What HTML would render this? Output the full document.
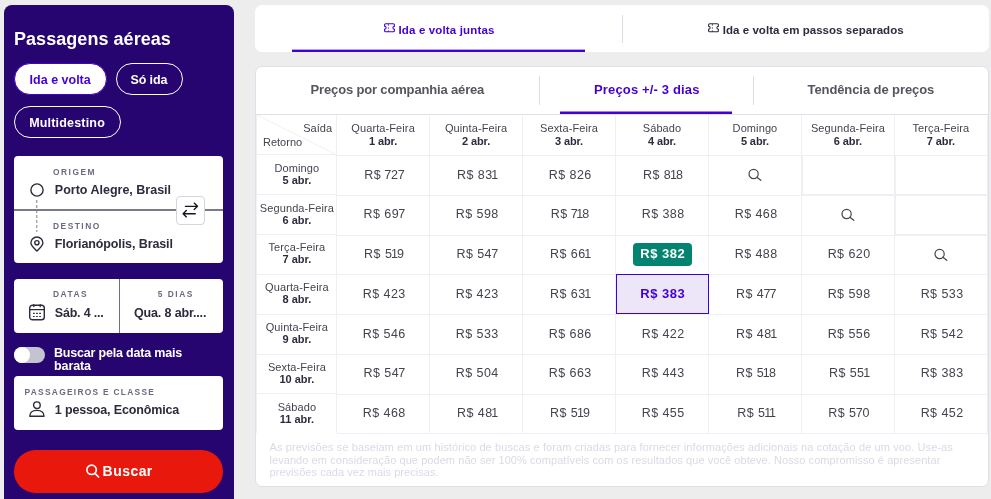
<!DOCTYPE html>
<html lang="pt-BR">
<head>
<meta charset="utf-8">
<title>Passagens aéreas</title>
<style>
*{box-sizing:border-box;margin:0;padding:0}
html,body{width:991px;height:499px;overflow:hidden;background:#ededed;font-family:"Liberation Sans",sans-serif;}
body{position:relative}
.abs{position:absolute}
.t{position:absolute;white-space:nowrap;line-height:1}
#panel{position:absolute;left:4px;top:5px;width:230px;height:510px;background:#270570;border-radius:8px 8px 0 0}
.pill{position:absolute;border-radius:16px;border:1px solid #fff}
.card{position:absolute;left:14px;width:209px;background:#fff;border-radius:4px}
#tabs1{position:absolute;left:255px;top:5px;width:734px;height:47px;background:#fff;border-radius:7px}
#card2{position:absolute;left:255px;top:66px;width:734px;height:421px;background:#fff;border-radius:7px;border:1px solid #dde1eb}
.hl{position:absolute;height:1px;background:#f0f0f4}
.vl{position:absolute;width:1px;background:#f0f0f4}
</style>
</head>
<body>
<div id="panel"></div>
<div class="t" style="top:30.00px;font-size:18px;font-weight:700;color:#fff;letter-spacing:0.05px;left:14.00px;">Passagens aéreas</div>
<div class="pill" style="left:14px;top:63px;width:93px;height:32px;background:#fff;border-color:#4300d2"></div>
<div class="pill" style="left:116px;top:63px;width:67px;height:32px"></div>
<div class="pill" style="left:14px;top:106px;width:107px;height:32px"></div>
<div class="t" style="top:74.00px;font-size:12.5px;font-weight:700;color:#4300d2;left:29.60px;">Ida e volta</div>
<div class="t" style="top:74.00px;font-size:12.5px;font-weight:700;color:#fff;letter-spacing:-0.15px;left:130.60px;">Só ida</div>
<div class="t" style="top:117.00px;font-size:12.5px;font-weight:700;color:#fff;letter-spacing:0.18px;left:29.20px;">Multidestino</div>
<div class="card" style="top:156px;height:107px"></div>
<div class="abs" style="left:14px;top:209px;width:209px;height:2px;background:#787c8a"></div>
<div class="t" style="top:168.00px;font-size:8.4px;font-weight:700;color:#6a6a82;letter-spacing:1.5px;left:53.00px;">ORIGEM</div>
<div class="t" style="top:184.00px;font-size:12.5px;font-weight:700;color:#2c2c3d;left:54.80px;">Porto Alegre, Brasil</div>
<div class="t" style="top:222.00px;font-size:8.4px;font-weight:700;color:#6a6a82;letter-spacing:1.5px;left:53.00px;">DESTINO</div>
<div class="t" style="top:238.00px;font-size:12.5px;font-weight:700;color:#2c2c3d;letter-spacing:-0.1px;left:54.80px;">Florianópolis, Brasil</div>
<svg class="abs" style="left:28px;top:181px" width="18" height="74" viewBox="0 0 18 74">
  <circle cx="9" cy="9" r="6.1" fill="none" stroke="#2c2c3d" stroke-width="1.400"/>
  <line x1="8.800" y1="19" x2="8.800" y2="51" stroke="#7d7d8c" stroke-width="1" stroke-dasharray="3 2"/>
  <path d="M8.900 70.100 C5.500 66.500 2.900 64.600 2.900 62 a6 6 0 0 1 12 0 c0 2.600 -2.600 4.500 -6 8.100z" fill="none" stroke="#2c2c3d" stroke-width="1.400" stroke-linejoin="round"/>
  <circle cx="8.900" cy="61.700" r="2.100" fill="none" stroke="#2c2c3d" stroke-width="1.400"/>
</svg>
<div class="abs" style="left:176px;top:196px;width:29px;height:29px;background:#fff;border:1px solid #d5d5de;border-radius:4px"></div>
<svg class="abs" style="left:182px;top:202px" width="17" height="17" viewBox="0 0 17 17" fill="none" stroke="#15151f" stroke-width="1.350" stroke-linecap="round" stroke-linejoin="round">
  <path d="M3.400 4.300 H15.400 M12.200 1.100 L15.500 4.300 L12.200 7.500"/>
  <path d="M13.300 11.700 H1.200 M4.400 8.500 L1.100 11.700 L4.400 14.900"/>
</svg>
<div class="card" style="top:279px;height:54px"></div>
<div class="abs" style="left:119px;top:279px;width:1px;height:54px;background:#6c7280"></div>
<div class="t" style="top:290.00px;font-size:8.4px;font-weight:700;color:#6a6a82;letter-spacing:1.5px;left:53.00px;">DATAS</div>
<div class="t" style="top:307.00px;font-size:12.5px;font-weight:700;color:#2c2c3d;letter-spacing:-0.2px;left:54.80px;">Sáb. 4 ...</div>
<div class="t" style="top:290.00px;font-size:8.4px;font-weight:700;color:#6a6a82;letter-spacing:1.5px;left:157.80px;">5 DIAS</div>
<div class="t" style="top:307.00px;font-size:12.5px;font-weight:700;color:#2c2c3d;letter-spacing:-0.15px;left:134.00px;">Qua. 8 abr....</div>
<svg class="abs" style="left:28px;top:302px" width="18" height="20" viewBox="0 0 18 20" fill="none" stroke="#2c2c3d" stroke-width="1.400" stroke-linecap="round">
  <rect x="1.700" y="3.200" width="14.600" height="14.600" rx="2.800"/>
  <line x1="1.700" y1="7.600" x2="16.300" y2="7.600"/>
  <line x1="5.800" y1="2.700" x2="5.800" y2="4.500"/>
  <line x1="12.200" y1="2.700" x2="12.200" y2="4.500"/>
  <g stroke-width="1.100" stroke-dasharray="1.700 1.400" stroke-linecap="butt"><line x1="5" y1="11.400" x2="13.500" y2="11.400"/><line x1="5" y1="14.500" x2="13.500" y2="14.500"/></g>
</svg>
<div class="abs" style="left:14px;top:347px;width:31px;height:16px;border-radius:8px;background:#c4c4d0"></div>
<div class="abs" style="left:14px;top:347px;width:16px;height:16px;border-radius:8px;background:#fff"></div>
<div class="t" style="top:347.00px;font-size:12.5px;font-weight:700;color:#fff;letter-spacing:-0.19px;left:54.00px;">Buscar pela data mais</div>
<div class="t" style="top:360.00px;font-size:12.5px;font-weight:700;color:#fff;letter-spacing:-0.1px;left:54.00px;">barata</div>
<div class="card" style="top:376px;height:54px"></div>
<div class="t" style="top:388.00px;font-size:8.4px;font-weight:700;color:#6a6a82;letter-spacing:1.28px;left:24.50px;">PASSAGEIROS E CLASSE</div>
<div class="t" style="top:404.00px;font-size:12.5px;font-weight:700;color:#2c2c3d;letter-spacing:-0.15px;left:54.80px;">1 pessoa, Econômica</div>
<svg class="abs" style="left:28px;top:400px" width="18" height="18" viewBox="0 0 18 18" fill="none" stroke="#2c2c3d" stroke-width="1.400" stroke-linecap="round" stroke-linejoin="round">
  <circle cx="8.900" cy="5.200" r="3.300"/>
  <path d="M1.800 16.200 c0 -4 3 -5.800 7.100 -5.800 s7.100 1.800 7.100 5.800z"/>
</svg>
<div class="abs" style="left:14px;top:450px;width:209px;height:43px;border-radius:22px;background:#e8190c"></div>
<svg class="abs" style="left:85px;top:463px" width="16" height="16" viewBox="0 0 16 16" fill="none" stroke="#fff" stroke-width="1.700" stroke-linecap="round">
  <circle cx="6.600" cy="6.800" r="4.700"/><line x1="10" y1="10.400" x2="13.600" y2="14"/>
</svg>
<div class="t" style="top:464.00px;font-size:14px;font-weight:700;color:#fff;letter-spacing:0.45px;left:102.60px;">Buscar</div>
<div id="tabs1"></div>
<div class="abs" style="left:292px;top:49px;width:293px;height:1px;background:#b9a0ee"></div>
<div class="abs" style="left:292px;top:50px;width:293px;height:2px;background:#4300d2"></div>
<div class="abs" style="left:622px;top:15px;width:1px;height:28px;background:#dcdce6"></div>
<svg class="abs" style="left:384px;top:23px" width="11" height="10" viewBox="0 0 11 10" fill="none" stroke="#4300d2" stroke-width="1.100">
  <path d="M1.600 .8 h7.800 a1 1 0 0 1 1 1 v1.500 a1.500 1.500 0 0 0 0 3 v1.500 a1 1 0 0 1 -1 1 h-7.800 a1 1 0 0 1 -1 -1 v-1.500 a1.500 1.500 0 0 0 0 -3 v-1.500 a1 1 0 0 1 1 -1z"/>
  <line x1="4.400" y1="1.300" x2="4.400" y2="8.700" stroke-dasharray="1.200 1.900"/>
</svg>
<div class="t" style="top:25.00px;font-size:11.5px;font-weight:700;color:#4300d2;letter-spacing:0.15px;left:398.50px;">Ida e volta juntas</div>
<svg class="abs" style="left:708px;top:23px" width="11" height="10" viewBox="0 0 11 10" fill="none" stroke="#2c2c3d" stroke-width="1.100">
  <path d="M1.600 .8 h7.800 a1 1 0 0 1 1 1 v1.500 a1.500 1.500 0 0 0 0 3 v1.500 a1 1 0 0 1 -1 1 h-7.800 a1 1 0 0 1 -1 -1 v-1.500 a1.500 1.500 0 0 0 0 -3 v-1.500 a1 1 0 0 1 1 -1z"/>
  <line x1="4.400" y1="1.300" x2="4.400" y2="8.700" stroke-dasharray="1.200 1.900"/>
</svg>
<div class="t" style="top:25.00px;font-size:11.5px;font-weight:700;color:#2c2c3d;letter-spacing:0.04px;left:722.80px;">Ida e volta em passos separados</div>
<div id="card2"></div>
<div class="t" style="top:83.00px;font-size:13px;font-weight:700;color:#55555f;letter-spacing:-0.16px;left:310.60px;">Preços por companhia aérea</div>
<div class="t" style="top:83.00px;font-size:13px;font-weight:700;color:#4300d2;letter-spacing:0.15px;left:594.00px;">Preços +/- 3 dias</div>
<div class="t" style="top:83.00px;font-size:13px;font-weight:700;color:#55555f;letter-spacing:-0.09px;left:807.50px;">Tendência de preços</div>
<div class="abs" style="left:539px;top:76px;width:1px;height:29px;background:#dcdce6"></div>
<div class="abs" style="left:753px;top:76px;width:1px;height:29px;background:#dcdce6"></div>
<div class="abs" style="left:560px;top:111px;width:172px;height:1px;background:#a180e8"></div>
<div class="abs" style="left:560px;top:112px;width:172px;height:2px;background:#4300d2"></div>
<div class="hl" style="left:256px;top:114px;width:732px;background:#dfe0ea"></div>
<div class="hl" style="left:256px;top:154px;width:81px"></div>
<div class="hl" style="left:337px;top:155px;width:651px"></div>
<div class="hl" style="left:256px;top:194px;width:81px"></div>
<div class="hl" style="left:337px;top:195px;width:651px"></div>
<div class="hl" style="left:256px;top:234px;width:81px"></div>
<div class="hl" style="left:337px;top:235px;width:651px"></div>
<div class="hl" style="left:256px;top:274px;width:81px"></div>
<div class="hl" style="left:337px;top:274px;width:651px"></div>
<div class="hl" style="left:256px;top:314px;width:81px"></div>
<div class="hl" style="left:337px;top:314px;width:651px"></div>
<div class="hl" style="left:256px;top:354px;width:81px"></div>
<div class="hl" style="left:337px;top:354px;width:651px"></div>
<div class="hl" style="left:256px;top:393px;width:81px"></div>
<div class="hl" style="left:337px;top:394px;width:651px"></div>
<div class="hl" style="left:337px;top:433px;width:651px"></div>
<div class="vl" style="left:256px;top:115px;height:318px"></div>
<div class="vl" style="left:336px;top:115px;height:318px"></div>
<div class="vl" style="left:429px;top:115px;height:318px"></div>
<div class="vl" style="left:522px;top:115px;height:318px"></div>
<div class="vl" style="left:615px;top:115px;height:318px"></div>
<div class="vl" style="left:708px;top:115px;height:318px"></div>
<div class="vl" style="left:801px;top:115px;height:318px"></div>
<div class="vl" style="left:894px;top:115px;height:318px"></div>
<div class="vl" style="left:987px;top:115px;height:318px"></div>
<svg class="abs" style="left:257px;top:115px" width="80" height="40"><line x1="0" y1="0" x2="80" y2="40" stroke="#f1f1f5" stroke-width="1"/></svg>
<div class="t" style="top:123.00px;font-size:11px;font-weight:400;color:#44444f;left:32.00px;width:300px;text-align:right;">Saída</div>
<div class="t" style="top:137.00px;font-size:11px;font-weight:400;color:#44444f;left:263.00px;">Retorno</div>
<div class="t" style="top:123.00px;font-size:11px;font-weight:400;color:#44444f;letter-spacing:0.1px;left:233.09px;width:300px;text-align:center;">Quarta-Feira</div>
<div class="t" style="top:136.00px;font-size:11px;font-weight:700;color:#2c2c3d;letter-spacing:-0.1px;left:233.09px;width:300px;text-align:center;">1 abr.</div>
<div class="t" style="top:123.00px;font-size:11px;font-weight:400;color:#44444f;letter-spacing:0.1px;left:326.06px;width:300px;text-align:center;">Quinta-Feira</div>
<div class="t" style="top:136.00px;font-size:11px;font-weight:700;color:#2c2c3d;letter-spacing:-0.1px;left:326.06px;width:300px;text-align:center;">2 abr.</div>
<div class="t" style="top:123.00px;font-size:11px;font-weight:400;color:#44444f;letter-spacing:0.1px;left:419.02px;width:300px;text-align:center;">Sexta-Feira</div>
<div class="t" style="top:136.00px;font-size:11px;font-weight:700;color:#2c2c3d;letter-spacing:-0.1px;left:419.02px;width:300px;text-align:center;">3 abr.</div>
<div class="t" style="top:123.00px;font-size:11px;font-weight:400;color:#44444f;letter-spacing:0.1px;left:512.00px;width:300px;text-align:center;">Sábado</div>
<div class="t" style="top:136.00px;font-size:11px;font-weight:700;color:#2c2c3d;letter-spacing:-0.1px;left:512.00px;width:300px;text-align:center;">4 abr.</div>
<div class="t" style="top:123.00px;font-size:11px;font-weight:400;color:#44444f;letter-spacing:0.1px;left:604.97px;width:300px;text-align:center;">Domingo</div>
<div class="t" style="top:136.00px;font-size:11px;font-weight:700;color:#2c2c3d;letter-spacing:-0.1px;left:604.97px;width:300px;text-align:center;">5 abr.</div>
<div class="t" style="top:123.00px;font-size:11px;font-weight:400;color:#44444f;letter-spacing:0.1px;left:697.93px;width:300px;text-align:center;">Segunda-Feira</div>
<div class="t" style="top:136.00px;font-size:11px;font-weight:700;color:#2c2c3d;letter-spacing:-0.1px;left:697.93px;width:300px;text-align:center;">6 abr.</div>
<div class="t" style="top:123.00px;font-size:11px;font-weight:400;color:#44444f;letter-spacing:0.1px;left:790.90px;width:300px;text-align:center;">Terça-Feira</div>
<div class="t" style="top:136.00px;font-size:11px;font-weight:700;color:#2c2c3d;letter-spacing:-0.1px;left:790.90px;width:300px;text-align:center;">7 abr.</div>
<div class="t" style="top:163.00px;font-size:11px;font-weight:400;color:#44444f;letter-spacing:0.1px;left:146.90px;width:300px;text-align:center;">Domingo</div>
<div class="t" style="top:175.00px;font-size:11px;font-weight:700;color:#2c2c3d;left:146.90px;width:300px;text-align:center;">5 abr.</div>
<div class="t" style="top:169.00px;font-size:12.5px;font-weight:400;color:#44444f;letter-spacing:0.44px;left:234.29px;width:300px;text-align:center;">R$ <span style="letter-spacing:-0.26px;margin-left:-0.7px">7</span>2<span style="letter-spacing:-0.26px;margin-left:-0.7px">7</span></div>
<div class="t" style="top:169.00px;font-size:12.5px;font-weight:400;color:#44444f;letter-spacing:0.44px;left:327.25px;width:300px;text-align:center;">R$ 83<span style="letter-spacing:-0.9px;margin-left:-1.3px">1</span></div>
<div class="t" style="top:169.00px;font-size:12.5px;font-weight:400;color:#44444f;letter-spacing:0.44px;left:420.23px;width:300px;text-align:center;">R$ 826</div>
<div class="t" style="top:169.00px;font-size:12.5px;font-weight:400;color:#44444f;letter-spacing:0.44px;left:513.20px;width:300px;text-align:center;">R$ 8<span style="letter-spacing:-0.9px;margin-left:-1.3px">1</span>8</div>
<svg class="abs" style="left:747.2px;top:167.0px" width="16" height="16" viewBox="0 0 16 16" fill="none" stroke="#44444f" stroke-width="1.200" stroke-linecap="round"><circle cx="6.600" cy="6.950" r="4.600"/><line x1="9.900" y1="10.200" x2="13.800" y2="13.300"/></svg>
<div class="abs" style="left:801px;top:155px;width:2px;height:41px;background:#efeff3"></div>
<div class="abs" style="left:801px;top:194px;width:94px;height:2px;background:#efeff3"></div>
<div class="abs" style="left:894px;top:155px;width:2px;height:41px;background:#efeff3"></div>
<div class="abs" style="left:894px;top:194px;width:94px;height:2px;background:#efeff3"></div>
<div class="t" style="top:203.00px;font-size:11px;font-weight:400;color:#44444f;letter-spacing:0.1px;left:146.90px;width:300px;text-align:center;">Segunda-Feira</div>
<div class="t" style="top:215.00px;font-size:11px;font-weight:700;color:#2c2c3d;left:146.90px;width:300px;text-align:center;">6 abr.</div>
<div class="t" style="top:208.00px;font-size:12.5px;font-weight:400;color:#44444f;letter-spacing:0.44px;left:234.29px;width:300px;text-align:center;">R$ 69<span style="letter-spacing:-0.26px;margin-left:-0.7px">7</span></div>
<div class="t" style="top:208.00px;font-size:12.5px;font-weight:400;color:#44444f;letter-spacing:0.44px;left:327.25px;width:300px;text-align:center;">R$ 598</div>
<div class="t" style="top:208.00px;font-size:12.5px;font-weight:400;color:#44444f;letter-spacing:0.44px;left:420.23px;width:300px;text-align:center;">R$ <span style="letter-spacing:-0.26px;margin-left:-0.7px">7</span><span style="letter-spacing:-0.9px;margin-left:-1.3px">1</span>8</div>
<div class="t" style="top:208.00px;font-size:12.5px;font-weight:400;color:#44444f;letter-spacing:0.44px;left:513.20px;width:300px;text-align:center;">R$ 388</div>
<div class="t" style="top:208.00px;font-size:12.5px;font-weight:400;color:#44444f;letter-spacing:0.44px;left:606.17px;width:300px;text-align:center;">R$ 468</div>
<svg class="abs" style="left:840.1px;top:207.0px" width="16" height="16" viewBox="0 0 16 16" fill="none" stroke="#44444f" stroke-width="1.200" stroke-linecap="round"><circle cx="6.600" cy="6.950" r="4.600"/><line x1="9.900" y1="10.200" x2="13.800" y2="13.300"/></svg>
<div class="abs" style="left:894px;top:195px;width:2px;height:41px;background:#efeff3"></div>
<div class="abs" style="left:894px;top:234px;width:94px;height:2px;background:#efeff3"></div>
<div class="t" style="top:242.00px;font-size:11px;font-weight:400;color:#44444f;letter-spacing:0.1px;left:146.90px;width:300px;text-align:center;">Terça-Feira</div>
<div class="t" style="top:254.00px;font-size:11px;font-weight:700;color:#2c2c3d;left:146.90px;width:300px;text-align:center;">7 abr.</div>
<div class="t" style="top:248.00px;font-size:12.5px;font-weight:400;color:#44444f;letter-spacing:0.44px;left:234.29px;width:300px;text-align:center;">R$ 5<span style="letter-spacing:-0.9px;margin-left:-1.3px">1</span>9</div>
<div class="t" style="top:248.00px;font-size:12.5px;font-weight:400;color:#44444f;letter-spacing:0.44px;left:327.25px;width:300px;text-align:center;">R$ 54<span style="letter-spacing:-0.26px;margin-left:-0.7px">7</span></div>
<div class="t" style="top:248.00px;font-size:12.5px;font-weight:400;color:#44444f;letter-spacing:0.44px;left:420.23px;width:300px;text-align:center;">R$ 66<span style="letter-spacing:-0.9px;margin-left:-1.3px">1</span></div>
<div class="abs" style="left:633px;top:243px;width:59px;height:23px;border-radius:4px;background:#058371"></div>
<div class="t" style="top:247.00px;font-size:13px;font-weight:700;color:#fff;letter-spacing:0.5px;left:512.79px;width:300px;text-align:center;">R$ 382</div>
<div class="t" style="top:248.00px;font-size:12.5px;font-weight:400;color:#44444f;letter-spacing:0.44px;left:606.17px;width:300px;text-align:center;">R$ 488</div>
<div class="t" style="top:248.00px;font-size:12.5px;font-weight:400;color:#44444f;letter-spacing:0.44px;left:699.13px;width:300px;text-align:center;">R$ 620</div>
<svg class="abs" style="left:933.1px;top:246.5px" width="16" height="16" viewBox="0 0 16 16" fill="none" stroke="#44444f" stroke-width="1.200" stroke-linecap="round"><circle cx="6.600" cy="6.950" r="4.600"/><line x1="9.900" y1="10.200" x2="13.800" y2="13.300"/></svg>
<div class="t" style="top:282.00px;font-size:11px;font-weight:400;color:#44444f;letter-spacing:0.1px;left:146.90px;width:300px;text-align:center;">Quarta-Feira</div>
<div class="t" style="top:294.00px;font-size:11px;font-weight:700;color:#2c2c3d;left:146.90px;width:300px;text-align:center;">8 abr.</div>
<div class="t" style="top:288.00px;font-size:12.5px;font-weight:400;color:#44444f;letter-spacing:0.44px;left:234.29px;width:300px;text-align:center;">R$ 423</div>
<div class="t" style="top:288.00px;font-size:12.5px;font-weight:400;color:#44444f;letter-spacing:0.44px;left:327.25px;width:300px;text-align:center;">R$ 423</div>
<div class="t" style="top:288.00px;font-size:12.5px;font-weight:400;color:#44444f;letter-spacing:0.44px;left:420.23px;width:300px;text-align:center;">R$ 63<span style="letter-spacing:-0.9px;margin-left:-1.3px">1</span></div>
<div class="abs" style="left:616px;top:274px;width:93px;height:40px;background:#ede6f8;border:1px solid #4300d2"></div>
<div class="t" style="top:287.00px;font-size:13px;font-weight:700;color:#4300d2;letter-spacing:0.5px;left:512.79px;width:300px;text-align:center;">R$ 383</div>
<div class="t" style="top:288.00px;font-size:12.5px;font-weight:400;color:#44444f;letter-spacing:0.44px;left:606.17px;width:300px;text-align:center;">R$ 4<span style="letter-spacing:-0.26px;margin-left:-0.7px">7</span><span style="letter-spacing:-0.26px;margin-left:-0.7px">7</span></div>
<div class="t" style="top:288.00px;font-size:12.5px;font-weight:400;color:#44444f;letter-spacing:0.44px;left:699.13px;width:300px;text-align:center;">R$ 598</div>
<div class="t" style="top:288.00px;font-size:12.5px;font-weight:400;color:#44444f;letter-spacing:0.44px;left:792.11px;width:300px;text-align:center;">R$ 533</div>
<div class="t" style="top:322.00px;font-size:11px;font-weight:400;color:#44444f;letter-spacing:0.1px;left:146.90px;width:300px;text-align:center;">Quinta-Feira</div>
<div class="t" style="top:334.00px;font-size:11px;font-weight:700;color:#2c2c3d;left:146.90px;width:300px;text-align:center;">9 abr.</div>
<div class="t" style="top:328.00px;font-size:12.5px;font-weight:400;color:#44444f;letter-spacing:0.44px;left:234.29px;width:300px;text-align:center;">R$ 546</div>
<div class="t" style="top:328.00px;font-size:12.5px;font-weight:400;color:#44444f;letter-spacing:0.44px;left:327.25px;width:300px;text-align:center;">R$ 533</div>
<div class="t" style="top:328.00px;font-size:12.5px;font-weight:400;color:#44444f;letter-spacing:0.44px;left:420.23px;width:300px;text-align:center;">R$ 686</div>
<div class="t" style="top:328.00px;font-size:12.5px;font-weight:400;color:#44444f;letter-spacing:0.44px;left:513.20px;width:300px;text-align:center;">R$ 422</div>
<div class="t" style="top:328.00px;font-size:12.5px;font-weight:400;color:#44444f;letter-spacing:0.44px;left:606.17px;width:300px;text-align:center;">R$ 48<span style="letter-spacing:-0.9px;margin-left:-1.3px">1</span></div>
<div class="t" style="top:328.00px;font-size:12.5px;font-weight:400;color:#44444f;letter-spacing:0.44px;left:699.13px;width:300px;text-align:center;">R$ 556</div>
<div class="t" style="top:328.00px;font-size:12.5px;font-weight:400;color:#44444f;letter-spacing:0.44px;left:792.11px;width:300px;text-align:center;">R$ 542</div>
<div class="t" style="top:362.00px;font-size:11px;font-weight:400;color:#44444f;letter-spacing:0.1px;left:146.90px;width:300px;text-align:center;">Sexta-Feira</div>
<div class="t" style="top:374.00px;font-size:11px;font-weight:700;color:#2c2c3d;left:146.90px;width:300px;text-align:center;">10 abr.</div>
<div class="t" style="top:367.00px;font-size:12.5px;font-weight:400;color:#44444f;letter-spacing:0.44px;left:234.29px;width:300px;text-align:center;">R$ 54<span style="letter-spacing:-0.26px;margin-left:-0.7px">7</span></div>
<div class="t" style="top:367.00px;font-size:12.5px;font-weight:400;color:#44444f;letter-spacing:0.44px;left:327.25px;width:300px;text-align:center;">R$ 504</div>
<div class="t" style="top:367.00px;font-size:12.5px;font-weight:400;color:#44444f;letter-spacing:0.44px;left:420.23px;width:300px;text-align:center;">R$ 663</div>
<div class="t" style="top:367.00px;font-size:12.5px;font-weight:400;color:#44444f;letter-spacing:0.44px;left:513.20px;width:300px;text-align:center;">R$ 443</div>
<div class="t" style="top:367.00px;font-size:12.5px;font-weight:400;color:#44444f;letter-spacing:0.44px;left:606.17px;width:300px;text-align:center;">R$ 5<span style="letter-spacing:-0.9px;margin-left:-1.3px">1</span>8</div>
<div class="t" style="top:367.00px;font-size:12.5px;font-weight:400;color:#44444f;letter-spacing:0.44px;left:699.13px;width:300px;text-align:center;">R$ 55<span style="letter-spacing:-0.9px;margin-left:-1.3px">1</span></div>
<div class="t" style="top:367.00px;font-size:12.5px;font-weight:400;color:#44444f;letter-spacing:0.44px;left:792.11px;width:300px;text-align:center;">R$ 383</div>
<div class="t" style="top:402.00px;font-size:11px;font-weight:400;color:#44444f;letter-spacing:0.1px;left:146.90px;width:300px;text-align:center;">Sábado</div>
<div class="t" style="top:414.00px;font-size:11px;font-weight:700;color:#2c2c3d;left:146.90px;width:300px;text-align:center;">11 abr.</div>
<div class="t" style="top:407.00px;font-size:12.5px;font-weight:400;color:#44444f;letter-spacing:0.44px;left:234.29px;width:300px;text-align:center;">R$ 468</div>
<div class="t" style="top:407.00px;font-size:12.5px;font-weight:400;color:#44444f;letter-spacing:0.44px;left:327.25px;width:300px;text-align:center;">R$ 48<span style="letter-spacing:-0.9px;margin-left:-1.3px">1</span></div>
<div class="t" style="top:407.00px;font-size:12.5px;font-weight:400;color:#44444f;letter-spacing:0.44px;left:420.23px;width:300px;text-align:center;">R$ 5<span style="letter-spacing:-0.9px;margin-left:-1.3px">1</span>9</div>
<div class="t" style="top:407.00px;font-size:12.5px;font-weight:400;color:#44444f;letter-spacing:0.44px;left:513.20px;width:300px;text-align:center;">R$ 455</div>
<div class="t" style="top:407.00px;font-size:12.5px;font-weight:400;color:#44444f;letter-spacing:0.44px;left:606.17px;width:300px;text-align:center;">R$ 5<span style="letter-spacing:-0.9px;margin-left:-1.3px">1</span><span style="letter-spacing:-0.9px;margin-left:-1.3px">1</span></div>
<div class="t" style="top:407.00px;font-size:12.5px;font-weight:400;color:#44444f;letter-spacing:0.44px;left:699.13px;width:300px;text-align:center;">R$ 5<span style="letter-spacing:-0.26px;margin-left:-0.7px">7</span>0</div>
<div class="t" style="top:407.00px;font-size:12.5px;font-weight:400;color:#44444f;letter-spacing:0.44px;left:792.11px;width:300px;text-align:center;">R$ 452</div>
<div class="t" style="top:442.00px;font-size:11px;font-weight:400;color:#dadae6;letter-spacing:0.097px;left:269.50px;">As previsões se baseiam em um histórico de buscas e foram criadas para fornecer informações adicionais na cotação de um voo. Use-as</div>
<div class="t" style="top:455.00px;font-size:11px;font-weight:400;color:#dadae6;letter-spacing:0.065px;left:269.50px;">levando em consideração que podem não ser 100% compatíveis com os resultados que você obteve. Nosso compromisso é apresentar</div>
<div class="t" style="top:467.00px;font-size:11px;font-weight:400;color:#dadae6;letter-spacing:0.05px;left:269.50px;">previsões cada vez mais precisas.</div>
</body>
</html>
